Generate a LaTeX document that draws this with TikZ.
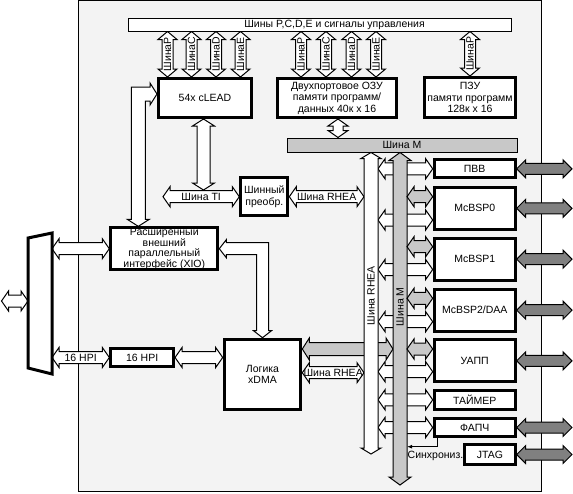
\documentclass[tikz,border=0pt]{standalone}
\usepackage{fontspec}
\setmainfont{Liberation Sans}
\usetikzlibrary{calc, arrows.meta, backgrounds}

\definecolor{framegray}{RGB}{243,243,243}
\definecolor{busgray}{RGB}{200,200,200}
\definecolor{portgray}{RGB}{128,128,128}

\tikzset{
  bus body/.store in=\busbody,
  bus head/.store in=\bushead,
  bus tip/.store in=\bustip,
  bus label pos/.store in=\buslabelpos,
  bus body=6pt, bus head=10pt, bus tip=7pt, bus label pos=0.5
}

% horizontal double bus arrow: [style]{left end}{right end}{label}
\newcommand{\hbus}[4][]{%
  \path[fatbus, #1] let \p1=#2, \p2=#3 in
    (\x1,\y1) -- ({\x1+\bustip},{\y1+\bushead}) -- ({\x1+\bustip},{\y1+\busbody})
    -- ({\x2-\bustip},{\y1+\busbody}) -- ({\x2-\bustip},{\y1+\bushead}) -- (\x2,\y1)
    -- ({\x2-\bustip},{\y1-\bushead}) -- ({\x2-\bustip},{\y1-\busbody})
    -- ({\x1+\bustip},{\y1-\busbody}) -- ({\x1+\bustip},{\y1-\bushead}) -- cycle
    ({(\x1+\x2)/2},\y1) node {#4};}

% vertical double bus arrow: [style]{top end}{bottom end}{label}
\newcommand{\vbus}[4][]{%
  \path[fatbus, #1] let \p1=#2, \p2=#3 in
    (\x1,\y1) -- ({\x1+\bushead},{\y1-\bustip}) -- ({\x1+\busbody},{\y1-\bustip})
    -- ({\x1+\busbody},{\y2+\bustip}) -- ({\x1+\bushead},{\y2+\bustip}) -- (\x1,\y2)
    -- ({\x1-\bushead},{\y2+\bustip}) -- ({\x1-\busbody},{\y2+\bustip})
    -- ({\x1-\busbody},{\y1-\bustip}) -- ({\x1-\bushead},{\y1-\bustip}) -- cycle
    (\x1,{\y1+\buslabelpos*(\y2-\y1)}) node[rotate=90] {#4};}

% bent bus arrow: [style]{horizontal tip}{vertical tip}{direction 1 or -1}
\newcommand{\bentbus}[4][]{%
  \path[fatbus, #1] let \p1=#2, \p2=#3 in
    (\x1,\y1) -- ({\x1+(#4)*\bustip},{\y1+\bushead}) -- ({\x1+(#4)*\bustip},{\y1+\busbody})
    -- ({\x2+(#4)*\busbody},{\y1+\busbody}) -- ({\x2+(#4)*\busbody},{\y2+\bustip})
    -- ({\x2+(#4)*\bushead},{\y2+\bustip}) -- (\x2,\y2)
    -- ({\x2-(#4)*\bushead},{\y2+\bustip}) -- ({\x2-(#4)*\busbody},{\y2+\bustip})
    -- ({\x2-(#4)*\busbody},{\y1-\busbody}) -- ({\x1+(#4)*\bustip},{\y1-\busbody})
    -- ({\x1+(#4)*\bustip},{\y1-\bushead}) -- cycle;}

\begin{document}
\begin{tikzpicture}[
    x={(1pt,0)}, y={(0,-1pt)},
    every node/.style={font=\fontsize{10.5}{11.5}\selectfont},
    box/.style={draw, line width=3pt, fill=white, inner sep=1pt, align=center},
    bar/.style={draw, line width=1pt, inner sep=0pt},
    fatbus/.style={draw, line width=1pt, fill=white}
]
    \useasboundingbox (0,0) rectangle (573,493);

    % Chip frame
    \begin{scope}[on background layer]
        \draw[fill=framegray, line width=1pt] (78,0.5) rectangle (541,491);
    \end{scope}

    % Shared buses
    \node[bar, fill=white, minimum width=383pt, minimum height=13pt] (pcde) at (319.5,24.5) {\hspace*{30pt}Шины P,C,D,E и сигналы управления};
    \node[bar, fill=busgray, minimum width=230pt, minimum height=14pt] (mbar) at (402,145) {Шина M};

    % Core and memory
    \node[box, minimum width=93pt, minimum height=39pt] (clead) at (205,98) {54x cLEAD};
    \node[box, minimum width=119pt, minimum height=39pt] (ram) at (337,98) {Двухпортовое ОЗУ\\памяти программ/\\данных 40к x 16};
    \node[box, minimum width=91pt, minimum height=40pt] (rom) at (470,97.5) {ПЗУ\\памяти программ\\128к x 16};
    \node[box, minimum width=47pt, minimum height=38.5pt] (conv) at (264.3,196.7) {Шинный\\преобр.};

    % External interfaces
    \node[box, inner sep=0pt, minimum width=107pt, minimum height=39.7pt, font=\fontsize{10.5}{9.8}\selectfont] (xio) at (164.3,248.7) {Расширенный\\внешний\\параллельный\\интерфейс (XIO)};
    \node[box, minimum width=62.7pt, minimum height=18.6pt] (hpi) at (142.2,357.5) {16 HPI};
    \node[box, minimum width=76.6pt, minimum height=70pt] (dma) at (262.5,374.2) {Логика\\xDMA};
    \draw[line width=3pt, fill=white] (28,238) -- (52,233) -- (52,374) -- (28,368) -- cycle;

    % Peripherals
    \foreach \bn/\by/\bh/\txt in {pvv/168.8/18/ПВВ, mcbsp0/208.3/41.7/McBSP0, mcbsp1/259.2/42/McBSP1,
        mcbsp2/310.2/42/{McBSP2/DAA}, uart/360.8/42/УАПП, timer/399.8/18.7/ТАЙМЕР, pll/427.5/18.6/ФАПЧ}
        \node[box, minimum width=81pt, minimum height=\bh pt] (\bn) at (474.7,\by) {\txt};
    \node[box, minimum width=50.4pt, minimum height=19.4pt] (jtag) at (490,454.5) {JTAG};

    \coordinate (extW) at (1.5,301);
    \coordinate (muxW) at (28,301);
    \coordinate (muxE) at (52,301);
    \coordinate (tiW) at (163,196.7);
    \coordinate (tiN) at (203.5,190);
    \coordinate (rheaW) at (364,0);
    \coordinate (rheaX) at (371,0);
    \coordinate (rheaE) at (378,0);
    \coordinate (mbusW) at (393,0);
    \coordinate (mbusX) at (400,0);
    \coordinate (mbusE) at (407,0);
    \coordinate (portE) at (572,0);
    \coordinate (sync) at (407,446.7);

    \begin{scope}[on background layer]
        % Core buses
        \foreach \bx/\lbl in {167.5/P, 191.5/C, 216/D, 240.5/E}
            \vbus[bus body=5.5pt, bus head=9.5pt, bus tip=8pt]{(pcde.south -| \bx,0)}{(clead.north -| \bx,0)}{Шина\lbl};
        \foreach \bx/\lbl in {301/P, 326/C, 351.5/D, 376/E}
            \vbus[bus body=5.5pt, bus head=9.5pt, bus tip=8pt]{(pcde.south -| \bx,0)}{(ram.north -| \bx,0)}{Шина\lbl};
        \vbus[bus body=5.5pt, bus head=9.5pt, bus tip=8pt]{(pcde.south -| rom.north)}{(rom.north)}{ШинаP};
        \vbus[bus body=5pt]{(ram.south -| 338,0)}{(mbar.north -| 338,0)}{};
        \vbus[bus body=6.5pt, bus head=11pt]{(clead.south -| tiN)}{(tiN)}{};
        \hbus{(tiW)}{(conv.west)}{Шина TI};
        \hbus{(conv.east)}{(rheaW)}{Шина RHEA};

        % XIO and xDMA
        \bentbus[bus body=7pt, bus head=11pt]{([yshift=4pt]clead.west)}{(xio.north -| 138.3,0)}{-1};
        \bentbus[bus body=6pt, bus head=9pt]{(xio.east)}{(dma.north)}{1};
        \hbus{(extW)}{(muxW)}{};
        \hbus{(muxE |- xio.west)}{(xio.west)}{};
        \hbus{(muxE |- hpi.west)}{(hpi.west)}{16 HPI};
        \hbus{(hpi.east)}{(dma.west)}{};
        \hbus[fill=busgray, bus body=6.5pt, bus head=11pt]{(dma.east |- 0,349)}{(mbusW)}{};
        \hbus{(dma.east |- 0,372.7)}{(rheaW)}{Шина RHEA};

        % Peripheral buses
        \foreach \bn/\by in {pvv/168.8, mcbsp0/220, mcbsp1/269.5, mcbsp2/321.7, uart/371.7, timer/399.8, pll/427.5}
            \hbus{(rheaE |- 0,\by)}{(\bn.west)}{};
        \vbus[bus body=7pt, bus head=10pt, bus tip=6pt, bus label pos=0.475]{(rheaX |- mbar.south)}{(rheaX |- 0,454)}{Шина RHEA};
        \vbus[fill=busgray, bus body=7pt, bus head=11pt, bus tip=8pt, bus label pos=0.464]{(mbusX |- mbar.south)}{(mbusX |- 0,485)}{Шина M};
        \foreach \bn/\by in {mcbsp0/196.7, mcbsp1/246.7, mcbsp2/298.3, uart/349}
            \hbus[fill=busgray]{(mbusE |- 0,\by)}{(\bn.west)}{};
        \foreach \bn in {pvv, mcbsp0, mcbsp1, mcbsp2, uart, pll, jtag}
            \hbus[fill=portgray, bus body=5.5pt, bus head=9pt, bus tip=9pt]{(\bn.east)}{(portE)}{};
    \end{scope}

    % Sync line
    \draw[line width=1pt, -{Latex[length=5pt, width=4pt]}] ([xshift=5pt]pll.south west) |- (sync);
    \node[anchor=west, inner sep=0pt] (synclbl) at (407.5,456) {Синхрониз.};
\end{tikzpicture}
\end{document}
